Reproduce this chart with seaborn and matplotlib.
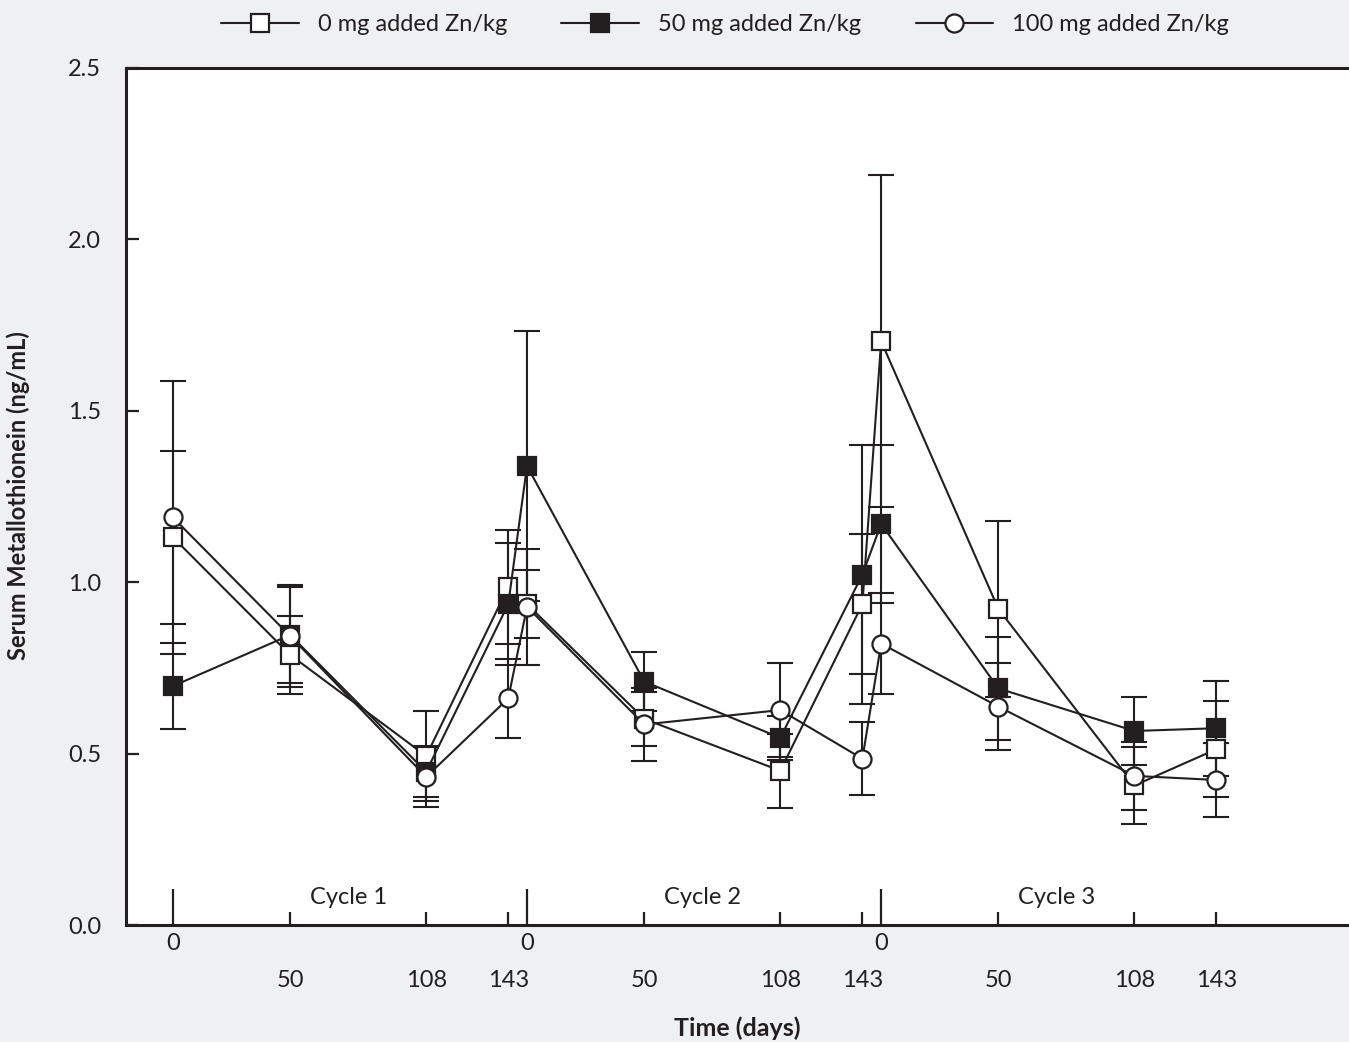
import matplotlib
matplotlib.use("Agg")
import matplotlib.pyplot as plt
import numpy as np
import pandas as pd
import seaborn as sns

# ---------------- data ----------------
cycles = [1, 1, 1, 1, 2, 2, 2, 2, 3, 3, 3, 3]
days = [0, 50, 108, 143, 0, 50, 108, 143, 0, 50, 108, 143]
cycle_labels = ["Cycle 1", "Cycle 2", "Cycle 3"]
series_names = ["0 mg added Zn/kg", "50 mg added Zn/kg", "100 mg added Zn/kg"]

mean_0mg = [1.131, 0.788, 0.493, 0.986, 0.936, 0.601, 0.450, 0.936, 1.703, 0.922, 0.407, 0.513]
err_0mg = [0.252, 0.113, 0.130, 0.166, 0.100, 0.080, 0.108, 0.205, 0.484, 0.256, 0.111, 0.140]

mean_50mg = [0.697, 0.846, 0.447, 0.936, 1.339, 0.710, 0.546, 1.022, 1.170, 0.690, 0.566, 0.574]
err_50mg = [0.125, 0.139, 0.075, 0.177, 0.394, 0.087, 0.065, 0.377, 0.230, 0.150, 0.100, 0.138]

mean_100mg = [1.189, 0.843, 0.432, 0.661, 0.928, 0.585, 0.627, 0.485, 0.821, 0.637, 0.435, 0.423]
err_100mg = [0.398, 0.150, 0.087, 0.116, 0.170, 0.106, 0.138, 0.106, 0.148, 0.127, 0.100, 0.107]

y_ticks = [0.0, 0.5, 1.0, 1.5, 2.0, 2.5]
y_tick_labels = ["0.0", "0.5", "1.0", "1.5", "2.0", "2.5"]

# ---------------- layout / style ----------------
CYCLE_SPAN = 151          # days between cycle starts on the time axis
INK = "#231f20"
BG = "#eff0f2"
FS = 17

xpos = [d + (c - 1) * CYCLE_SPAN for c, d in zip(cycles, days)]

frames = []
for name, m, e in zip(series_names, [mean_0mg, mean_50mg, mean_100mg],
                      [err_0mg, err_50mg, err_100mg]):
    frames.append(pd.DataFrame({"x": xpos, "value": m, "err": e, "group": name,
                                "cycle": cycles, "day": days}))
df = pd.concat(frames, ignore_index=True)

sns.set_theme(style="white")
plt.rcParams["font.family"] = ["Lato", "DejaVu Sans"]

fig = plt.figure(figsize=(13.49, 10.42), dpi=100, facecolor=BG)
ax = fig.add_axes([126 / 1349, 1 - 925 / 1042, 1 - 126 / 1349, (925 - 68) / 1042])
ax.set_facecolor("white")

styles = {
    series_names[0]: dict(marker="s", mfc="white"),
    series_names[1]: dict(marker="s", mfc=INK),
    series_names[2]: dict(marker="o", mfc="white"),
}

handles = []
for name in series_names:
    sub = df[df["group"] == name]
    ax.errorbar(sub["x"], sub["value"], yerr=sub["err"], fmt="none",
                ecolor=INK, elinewidth=1.5, capsize=9.5, capthick=1.5, zorder=2)
    st = styles[name]
    sns.lineplot(data=sub, x="x", y="value", ax=ax, color=INK, sort=False,
                 marker=st["marker"], markersize=13, markerfacecolor=st["mfc"],
                 markeredgecolor=INK, markeredgewidth=1.6, linewidth=1.5,
                 zorder=3, errorbar=None)
    handles.append(ax.lines[-1])

ax.set_xlim(-20, 501.5)
ax.set_ylim(0, 2.5)

# x ticks: cycle starts (major, long) and other days (minor, short)
major_x = [x for x, d in zip(xpos, days) if d == 0]
minor_x = [x for x, d in zip(xpos, days) if d != 0]
ax.set_xticks(major_x)
ax.set_xticklabels([str(d) for d in days if d == 0])
ax.set_xticks(minor_x, minor=True)
ax.set_xticklabels([str(d) for d in days if d != 0], minor=True)
ax.tick_params(axis="x", which="both", bottom=True, top=False)
ax.tick_params(axis="x", which="major", direction="in", length=26, width=1.6,
               color=INK, pad=5.5, labelsize=FS, labelcolor=INK)
ax.tick_params(axis="x", which="minor", direction="in", length=9.5, width=1.6,
               color=INK, pad=32.5, labelsize=FS, labelcolor=INK)

ax.set_yticks(y_ticks)
ax.set_yticklabels(y_tick_labels)
ax.tick_params(axis="y", which="major", left=True, right=False, direction="in",
               length=9.5, width=1.6, color=INK, pad=18, labelsize=FS, labelcolor=INK)

for s in ["left", "top", "bottom"]:
    ax.spines[s].set_color(INK)
    ax.spines[s].set_linewidth(2.2)
ax.spines["right"].set_visible(False)

ax.set_xlabel("")
ax.set_ylabel("")

for k, lab in enumerate(cycle_labels):
    ax.text(75 + k * CYCLE_SPAN, 0.08, lab, ha="center", va="center",
            fontsize=FS, color=INK)

fig.text(18 / 1349, 1 - 496 / 1042, "Serum Metallothionein (ng/mL)", rotation=90,
         ha="center", va="center", fontsize=FS, fontweight="bold", color=INK)
fig.text(737 / 1349, 1 - 1028 / 1042, "Time (days)", ha="center", va="center",
         fontsize=FS + 1, fontweight="bold", color=INK)

fig.legend(handles, series_names, loc="center", bbox_to_anchor=(725 / 1349, 1 - 25 / 1042),
           ncol=3, frameon=False, handlelength=3.3, columnspacing=2.3,
           handletextpad=0.8, fontsize=FS, labelcolor=INK)

fig.savefig("out.png", dpi=100, facecolor=BG)
